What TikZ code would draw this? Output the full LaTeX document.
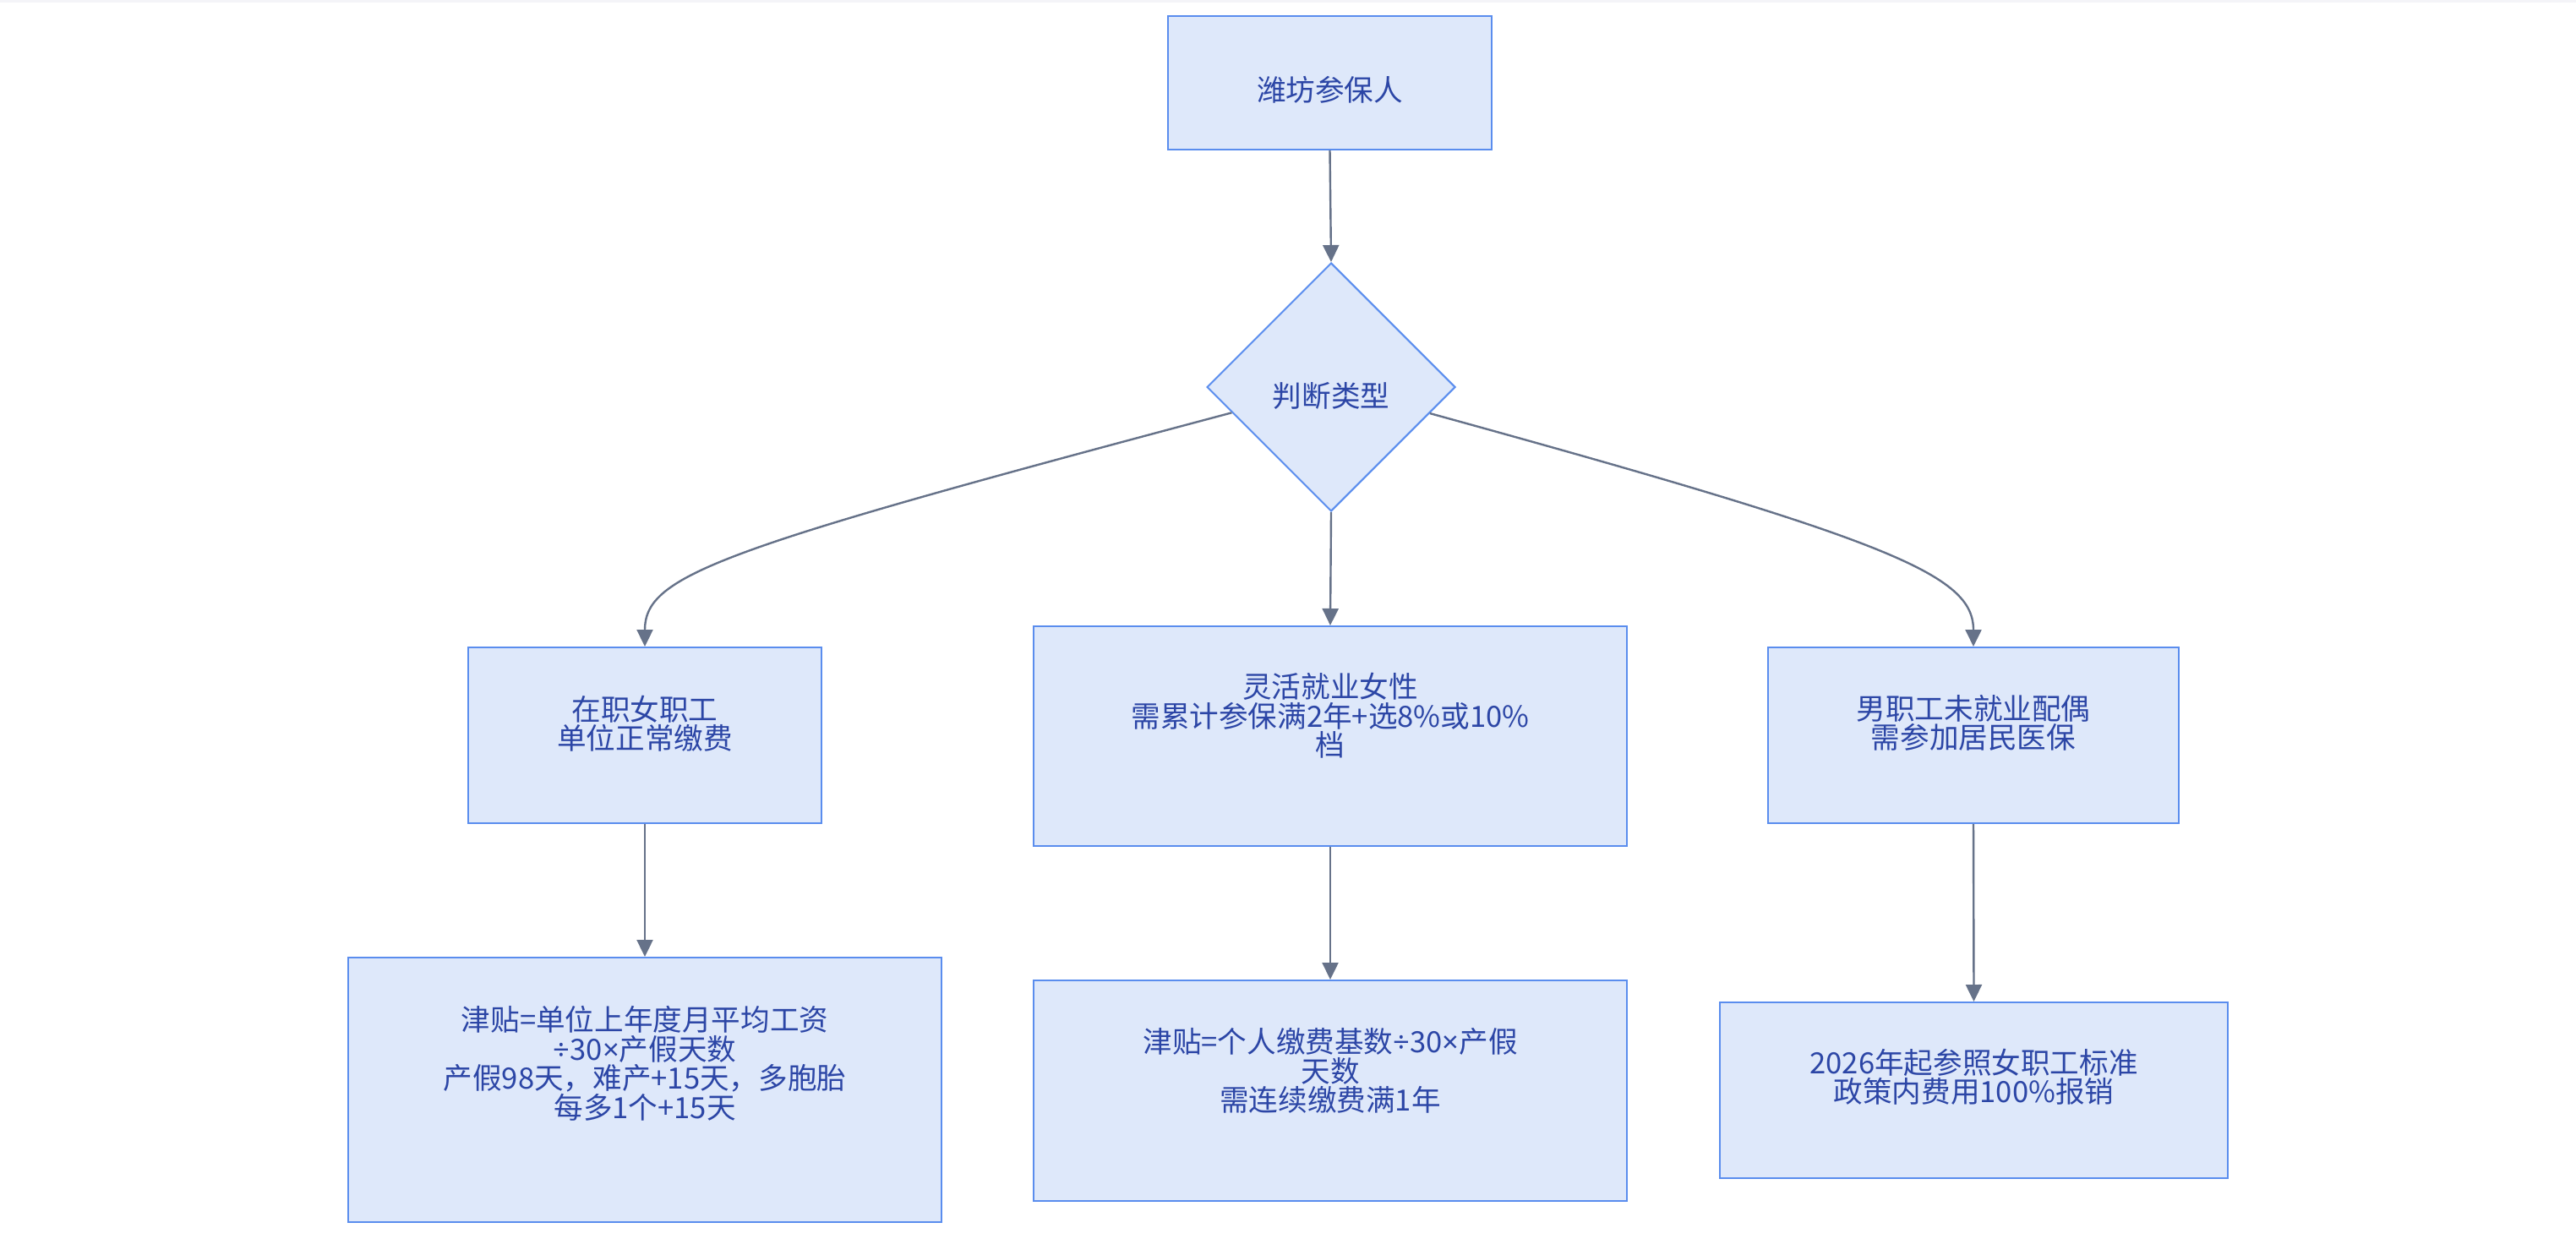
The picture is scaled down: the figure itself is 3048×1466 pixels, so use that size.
\documentclass[tikz,border=0pt]{standalone}
\usepackage{fontspec}
\setmainfont{Noto Sans CJK SC}
\newfontfamily\symfont{Noto Sans}
\newcommand{\dv}{{\symfont ÷}}
\newcommand{\tm}{{\symfont ×}}
\usetikzlibrary{arrows.meta,shapes.geometric,calc}
\definecolor{boxfill}{HTML}{DEE8FA}
\definecolor{boxline}{HTML}{5A8DEE}
\definecolor{txt}{HTML}{2C46A6}
\definecolor{edge}{HTML}{667289}
\definecolor{topstrip}{HTML}{F4F4F8}
\begin{document}
\begin{tikzpicture}[x=1pt,y=-1pt,
  box/.style={draw=boxline, fill=boxfill, line width=2pt, rectangle, inner sep=0pt},
  dbox/.style={draw=boxline, fill=boxfill, line width=2pt, diamond, aspect=1, inner sep=0pt},
  lbl/.style={text=txt, font=\fontsize{34.6}{34.5}\selectfont, align=center, inner sep=0pt},
  conn/.style={draw=edge, line width=2.4pt, -{Triangle[length=20pt,width=19pt]}}
]
\fill[white] (0,0) rectangle (3048,1466);
\fill[topstrip] (0,0) rectangle (3048,3);
\useasboundingbox (0,0) rectangle (3048,1466);

% boxes
\node[box, minimum width=383pt, minimum height=158pt] (top) at (1573.5,98) {};
\node[dbox, minimum width=294pt, minimum height=294pt] (dia) at (1575,458) {};
\node[box, minimum width=418pt, minimum height=208pt] (A) at (763,870) {};
\node[box, minimum width=702pt, minimum height=260pt] (B) at (1574,871) {};
\node[box, minimum width=486pt, minimum height=208pt] (C) at (2335,870) {};
\node[box, minimum width=702pt, minimum height=313pt] (D) at (763,1289.5) {};
\node[box, minimum width=702pt, minimum height=261pt] (E) at (1574,1290.5) {};
\node[box, minimum width=601pt, minimum height=208pt] (F) at (2335.5,1290) {};

% labels
\node[lbl] (topT) at (1573.5,106) {潍坊参保人};
\node[lbl] (diaT) at (1575,468) {判断类型};
\node[lbl] (AT) at (763,856) {在职女职工\\单位正常缴费};
\node[lbl] (BT) at (1574,847) {灵活就业女性\\需累计参保满2年+选8\%或10\%\\档};
\node[lbl] (CT) at (2335,855.5) {男职工未就业配偶\\需参加居民医保};
\node[lbl] (DT) at (763,1258.5) {津贴=单位上年度月平均工资\\\dv{}30\tm{}产假天数\\产假98天，难产+15天，多胞胎\\每多1个+15天};
\node[lbl] (ET) at (1574,1267) {津贴=个人缴费基数\dv{}30\tm{}产假\\天数\\需连续缴费满1年};
\node[lbl] (FT) at (2335.5,1274.5) {2026年起参照女职工标准\\政策内费用100\%报销};

% connectors
\draw[conn] (top.south) -- (dia.north);
\draw[conn] (dia.south) -- (B.north);
\draw[conn] ($(dia.west)!0.205!(dia.south)$) .. controls (850,650) and (763,680) .. (A.north);
\draw[conn] ($(dia.east)!0.21!(dia.south)$) .. controls (2240,640) and (2335,680) .. (C.north);
\draw[conn] (A.south) -- (D.north);
\draw[conn] (B.south) -- (E.north);
\draw[conn] (C.south) -- (F.north);
\end{tikzpicture}
\end{document}
